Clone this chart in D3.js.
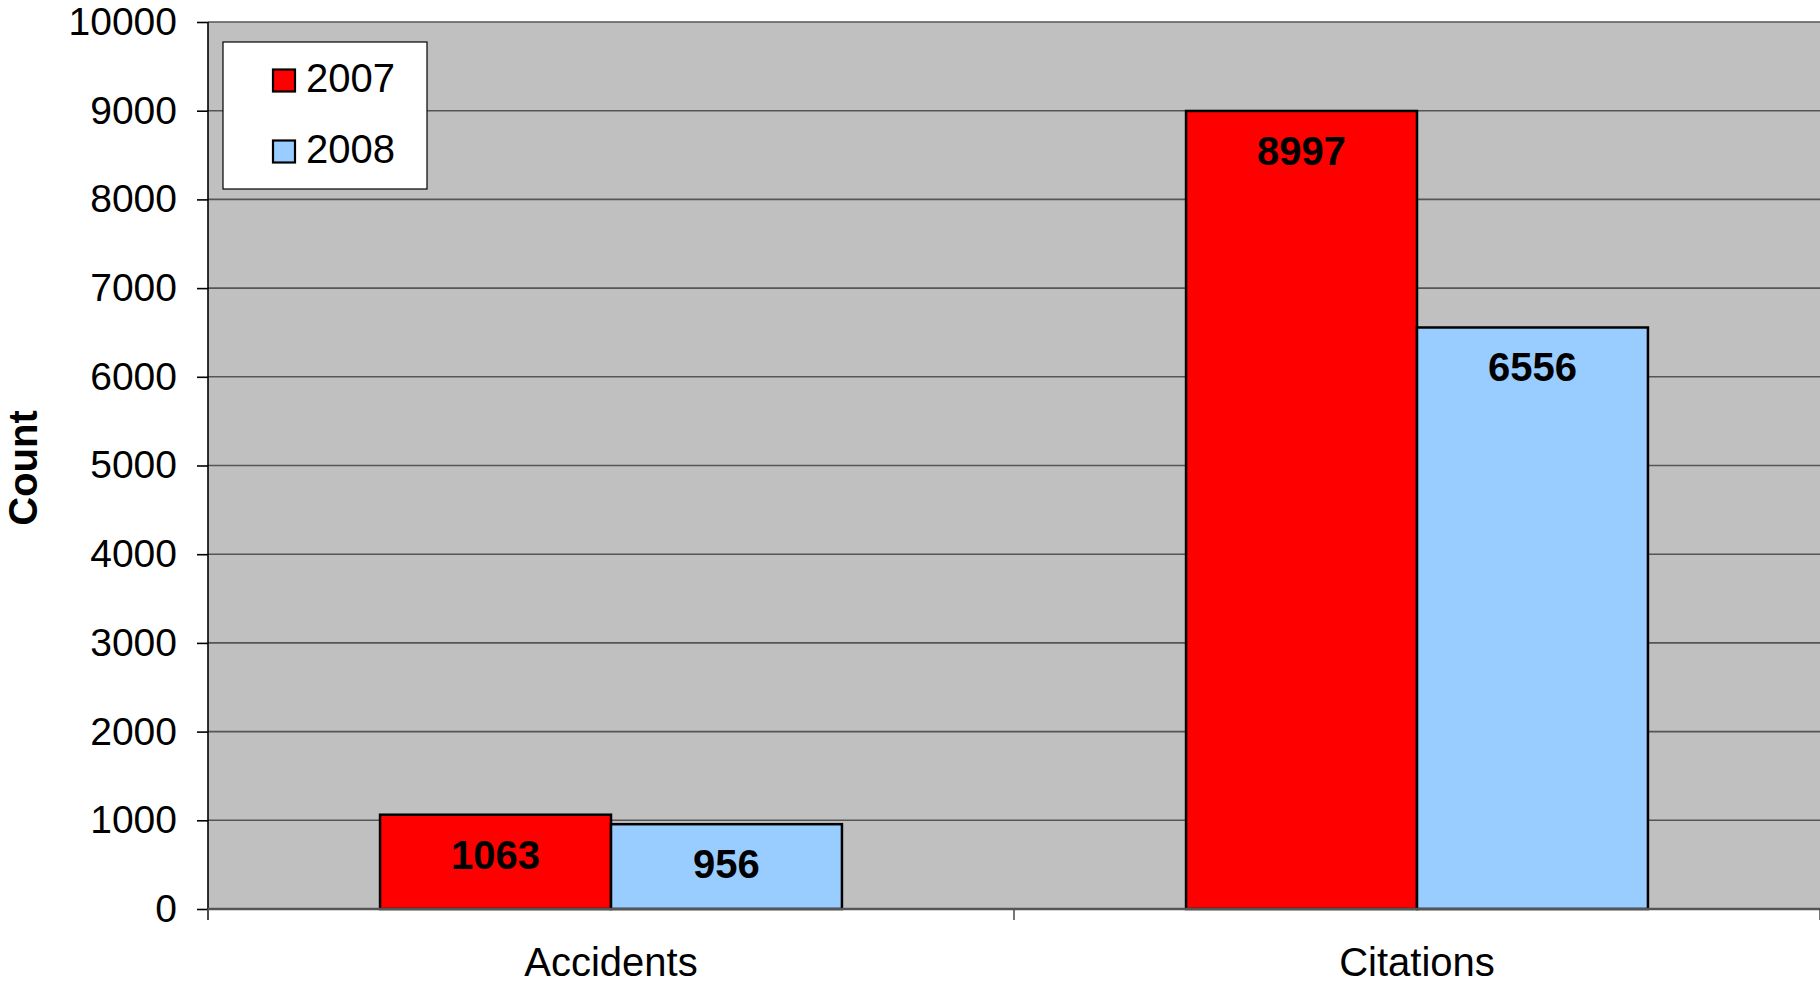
<!DOCTYPE html>
<html>
<head>
<meta charset="utf-8">
<script src="https://cdn.jsdelivr.net/npm/d3@7/dist/d3.min.js"></script>
<style>
  html, body { margin: 0; padding: 0; background: #fff; }
  svg { display: block; font-family: "Liberation Sans", Arial, sans-serif; }
</style>
</head>
<body>
<svg id="chart" width="1820" height="986"></svg>
<script>
const categories = ["Accidents", "Citations"];
const seriesNames = ["2007", "2008"];
const values2007 = [1063, 8997];
const values2008 = [956, 6556];
const yTicks = [0, 1000, 2000, 3000, 4000, 5000, 6000, 7000, 8000, 9000, 10000];
const colors = ["#ff0000", "#99ccff"];

(function () {
const svg = d3.select("#chart");
const pLeft = 208, pRight = 1820, pTop = 22, pBottom = 909;

const y = d3.scaleLinear().domain([0, 10000]).range([pBottom, pTop]);
const x = d3.scaleBand().domain(categories).range([pLeft, pRight]).paddingInner(0).paddingOuter(0);
const xs = d3.scaleBand().domain(seriesNames).range([0, x.bandwidth()]).paddingInner(0).paddingOuter(0.745);

// plot background
svg.append("rect").attr("x", pLeft).attr("y", pTop).attr("width", pRight - pLeft).attr("height", pBottom - pTop)
  .attr("fill", "#c0c0c0");

// gridlines
svg.append("g").selectAll("line").data(yTicks).join("line")
  .attr("x1", pLeft).attr("x2", pRight)
  .attr("y1", d => y(d)).attr("y2", d => y(d))
  .attr("stroke", "#555").attr("stroke-width", 1.6);

// y axis
const yAxis = d3.axisLeft(y).tickValues(yTicks).tickSize(11).tickPadding(20).tickFormat(d3.format("d"));
const yg = svg.append("g").attr("transform", `translate(${pLeft},0)`).call(yAxis);
yg.select(".domain").remove();
yg.append("line").attr("x1", 0).attr("x2", 0).attr("y1", pTop).attr("y2", pBottom + 11)
  .attr("stroke", "#000").attr("stroke-width", 1.6);
yg.selectAll(".tick line").attr("stroke", "#000").attr("stroke-width", 1.6);
yg.selectAll(".tick text").attr("font-size", 39).attr("fill", "#000")
  .attr("font-family", "'Liberation Sans', Arial, sans-serif");

// bars
const data = categories.map((c, i) => ({ cat: c, vals: [values2007[i], values2008[i]] }));
const groups = svg.append("g").selectAll("g").data(data).join("g")
  .attr("transform", d => `translate(${x(d.cat)},0)`);
groups.selectAll("rect").data(d => d.vals.map((v, j) => ({ v, s: seriesNames[j], j }))).join("rect")
  .attr("x", d => xs(d.s)).attr("width", xs.bandwidth())
  .attr("y", d => y(d.v)).attr("height", d => y(0) - y(d.v))
  .attr("fill", d => colors[d.j]).attr("stroke", "#000").attr("stroke-width", 2.5);
groups.selectAll("text").data(d => d.vals.map((v, j) => ({ v, s: seriesNames[j], j }))).join("text")
  .attr("x", d => xs(d.s) + xs.bandwidth() / 2)
  .attr("y", d => y(d.v) + 40)
  .attr("text-anchor", "middle").attr("dominant-baseline", "central")
  .attr("font-size", 40).attr("font-weight", "bold").attr("fill", "#000")
  .text(d => d.v);

// x axis
svg.append("line").attr("x1", pLeft).attr("x2", pRight).attr("y1", pBottom).attr("y2", pBottom)
  .attr("stroke", "#555").attr("stroke-width", 2.5);
const xTickPos = [pLeft, ...categories.map(c => x(c) + x.bandwidth())];
svg.append("g").selectAll("line").data(xTickPos).join("line")
  .attr("x1", d => d).attr("x2", d => d).attr("y1", pBottom).attr("y2", pBottom + 11)
  .attr("stroke", "#555").attr("stroke-width", 1.6);
svg.append("g").selectAll("text").data(categories).join("text")
  .attr("x", d => x(d) + x.bandwidth() / 2).attr("y", 962)
  .attr("text-anchor", "middle").attr("dominant-baseline", "central")
  .attr("font-size", 40).attr("fill", "#000").text(d => d);

// y axis title
svg.append("text").attr("transform", "translate(23,468) rotate(-90)")
  .attr("text-anchor", "middle").attr("dominant-baseline", "central")
  .attr("font-size", 40).attr("font-weight", "bold").attr("fill", "#000").text("Count");

// legend
const lg = svg.append("g");
lg.append("rect").attr("x", 223).attr("y", 42).attr("width", 204).attr("height", 147)
  .attr("fill", "#fff").attr("stroke", "#000").attr("stroke-width", 1.2);
const li = lg.selectAll("g").data(seriesNames).join("g")
  .attr("transform", (d, i) => `translate(0,${80.5 + i * 71})`);
li.append("rect").attr("x", 273).attr("y", -11).attr("width", 22).attr("height", 22)
  .attr("fill", (d, i) => colors[i]).attr("stroke", "#000").attr("stroke-width", 2.2);
li.append("text").attr("x", 306).attr("y", -3).attr("dominant-baseline", "central")
  .attr("font-size", 40).attr("fill", "#000").text(d => d);
})();
</script>
</body>
</html>
